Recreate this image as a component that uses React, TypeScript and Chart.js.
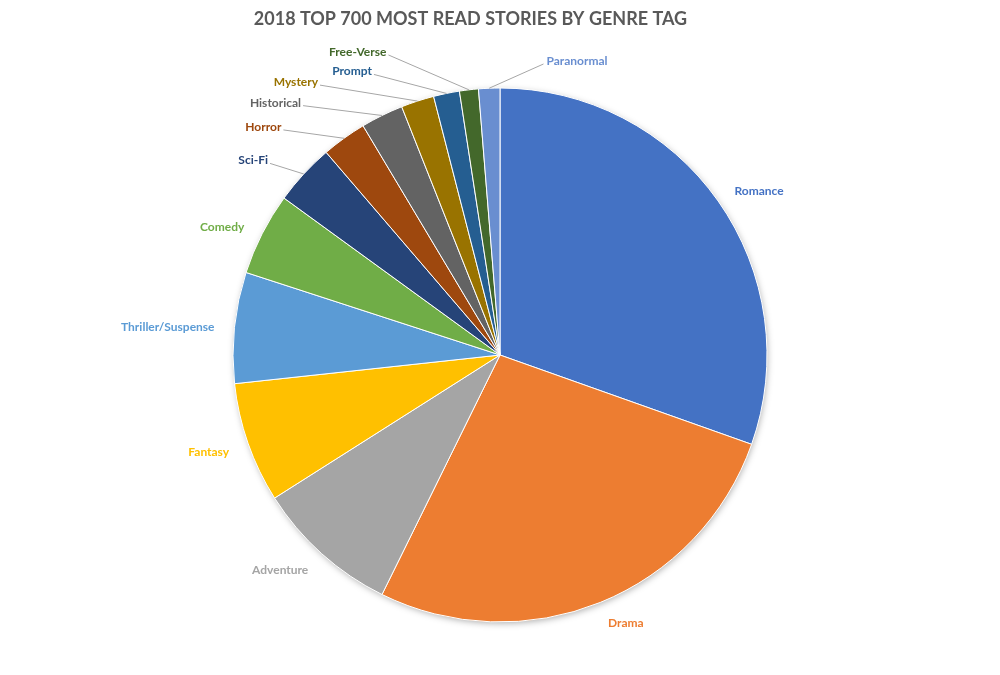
import React, { useEffect, useRef } from "react";
import { Chart, registerables } from "chart.js";

Chart.register(...registerables);

const chartTitle = "2018 TOP 700 MOST READ STORIES BY GENRE TAG";

const genres = [
  "Romance",
  "Drama",
  "Adventure",
  "Fantasy",
  "Thriller/Suspense",
  "Comedy",
  "Sci-Fi",
  "Horror",
  "Historical",
  "Mystery",
  "Prompt",
  "Free-Verse",
  "Paranormal",
];

const storyCounts = [213, 188, 61, 51, 47, 35, 26, 19, 18, 14, 11, 8, 9];

const sliceColors = [
  "#4472C4",
  "#ED7D31",
  "#A5A5A5",
  "#FFC000",
  "#5B9BD5",
  "#70AD47",
  "#264478",
  "#9E480E",
  "#636363",
  "#997300",
  "#255E91",
  "#43682B",
  "#698ED0",
];

// Callout label placement for the crowded small slices:
// angle in degrees clockwise from 12 o'clock, distance as a multiple of the radius.
const calloutPlacement: Record<string, { angle: number; dist: number }> = {
  "Sci-Fi": { angle: 309.8, dist: 1.121 },
  Horror: { angle: 316.1, dist: 1.17 },
  Historical: { angle: 321.7, dist: 1.19 },
  Mystery: { angle: 326.3, dist: 1.215 },
  Prompt: { angle: 335.8, dist: 1.152 },
  "Free-Verse": { angle: 339.6, dist: 1.199 },
  Paranormal: { angle: 8.5, dist: 1.102 },
};

const FONT = "Lato, 'Open Sans', sans-serif";

const shadowPlugin = {
  id: "pieShadow",
  beforeDatasetsDraw(chart: any) {
    const arc = chart.getDatasetMeta(0).data[0];
    if (!arc) return;
    const { x, y, outerRadius } = arc.getProps(["x", "y", "outerRadius"], true);
    const ctx = chart.ctx;
    ctx.save();
    ctx.shadowColor = "rgba(0,0,0,0.35)";
    ctx.shadowBlur = 7;
    ctx.shadowOffsetX = 1;
    ctx.shadowOffsetY = 2;
    ctx.fillStyle = "#ffffff";
    ctx.beginPath();
    ctx.arc(x, y, outerRadius - 1, 0, Math.PI * 2);
    ctx.fill();
    ctx.restore();
  },
};

const labelPlugin = {
  id: "genreLabels",
  afterDatasetsDraw(chart: any) {
    const ctx = chart.ctx;
    const meta = chart.getDatasetMeta(0);
    ctx.save();
    ctx.font = `bold 12px ${FONT}`;
    ctx.textBaseline = "middle";
    meta.data.forEach((arc: any, i: number) => {
      const { x, y, startAngle, endAngle, outerRadius } = arc.getProps(
        ["x", "y", "startAngle", "endAngle", "outerRadius"],
        true
      );
      const mid = (startAngle + endAngle) / 2;
      const label = genres[i];
      const callout = calloutPlacement[label];
      ctx.fillStyle = sliceColors[i];
      if (callout) {
        const a = ((callout.angle - 90) * Math.PI) / 180;
        const ex = x + Math.cos(a) * outerRadius * callout.dist;
        const ey = y + Math.sin(a) * outerRadius * callout.dist;
        const sx = x + Math.cos(mid) * outerRadius;
        const sy = y + Math.sin(mid) * outerRadius;
        ctx.strokeStyle = "#A6A6A6";
        ctx.lineWidth = 1;
        ctx.beginPath();
        ctx.moveTo(sx, sy);
        ctx.lineTo(ex, ey);
        ctx.stroke();
        const right = ex > x;
        ctx.textAlign = right ? "left" : "right";
        ctx.fillText(label, ex + (right ? 3 : -2), ey - 3);
      } else {
        const ax = x + Math.cos(mid) * (outerRadius + 20);
        const ay = y + Math.sin(mid) * (outerRadius + 20);
        ctx.textAlign = Math.cos(mid) >= 0 ? "left" : "right";
        ctx.fillText(label, ax, ay + 2);
      }
    });
    ctx.restore();
  },
};

const titlePlugin = {
  id: "chartTitleText",
  afterDraw(chart: any) {
    const ctx = chart.ctx;
    ctx.save();
    ctx.font = `bold 18px ${FONT}`;
    ctx.fillStyle = "#595959";
    ctx.textAlign = "center";
    ctx.textBaseline = "middle";
    ctx.fillText(chartTitle, chart.width * 0.4705, 19);
    ctx.restore();
  },
};

export default function App() {
  const canvasRef = useRef<HTMLCanvasElement | null>(null);

  useEffect(() => {
    if (!canvasRef.current) return;
    const chart = new Chart(canvasRef.current, {
      type: "pie",
      data: {
        labels: genres,
        datasets: [
          {
            data: storyCounts,
            backgroundColor: sliceColors,
            borderColor: "#ffffff",
            borderWidth: 1,
            radius: 267,
          } as any,
        ],
      },
      options: {
        animation: false,
        responsive: true,
        maintainAspectRatio: false,
        layout: { padding: { top: 40, bottom: 5, left: 0, right: 0 } },
        plugins: {
          legend: { display: false },
          title: { display: false },
          tooltip: { enabled: false },
        },
      },
      plugins: [shadowPlugin, labelPlugin, titlePlugin],
    });
    return () => chart.destroy();
  }, []);

  return (
    <div
      style={{
        position: "absolute",
        left: 0,
        top: 0,
        width: 1000,
        height: 675,
        background: "#ffffff",
      }}
    >
      <canvas ref={canvasRef} />
    </div>
  );
}
